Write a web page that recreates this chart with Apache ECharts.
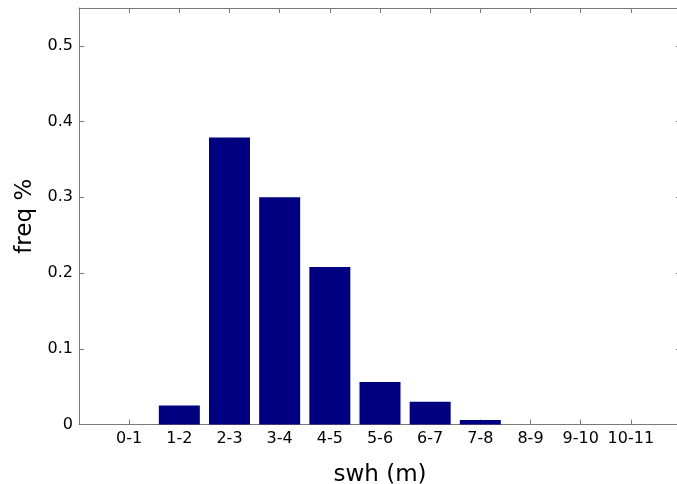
<!DOCTYPE html>
<html>
<head>
<meta charset="utf-8">
<script src="https://cdn.jsdelivr.net/npm/echarts@6/dist/echarts.min.js"></script>
<style>
  html, body { margin: 0; padding: 0; background: #fff; }
  #chart { width: 677px; height: 484px; }
</style>
</head>
<body>
<div id="chart"></div>
<script>
// Significant wave height bins and their frequency
const binLabels = ['0-1', '1-2', '2-3', '3-4', '4-5', '5-6', '6-7', '7-8', '8-9', '9-10', '10-11'];
const freqValues = [0, 0.025, 0.379, 0.300, 0.208, 0.056, 0.030, 0.006, 0, 0, 0];
const yTickValues = [0, 0.1, 0.2, 0.3, 0.4, 0.5];

// bins sit at positions 1..N on a numeric axis that spans 0..N+1
const binPositions = binLabels.map((_, i) => i + 1);
const barData = binPositions.map((p, i) => [p, freqValues[i]]);

const FONT = 'DejaVu Sans';
const AXIS_GREY = '#7a7a7a';

const lineStyle = { color: AXIS_GREY, width: 1 };
const tickStyle = { show: true, inside: true, length: 5, lineStyle: { color: AXIS_GREY, width: 1 } };

const chart = echarts.init(document.getElementById('chart'), null, { renderer: 'canvas' });

chart.setOption({
  animation: false,
  backgroundColor: '#ffffff',
  grid: { left: 79, right: -4, top: 8, bottom: 59.5, containLabel: false, outerBoundsMode: 'none' },
  xAxis: [
    {
      type: 'value',
      position: 'bottom',
      min: 0,
      max: binLabels.length + 1,
      interval: 1,
      name: 'swh (m)',
      nameLocation: 'middle',
      nameGap: 39,
      nameTextStyle: { fontFamily: FONT, fontSize: 23, color: '#000' },
      axisLine: { show: true, onZero: false, lineStyle: lineStyle },
      axisTick: Object.assign({ customValues: binPositions }, tickStyle),
      axisLabel: {
        customValues: binPositions,
        formatter: v => binLabels[Math.round(v) - 1] || '',
        fontFamily: FONT, fontSize: 16, color: '#000', margin: 6
      },
      splitLine: { show: false }
    },
    {
      type: 'value',
      position: 'top',
      min: 0,
      max: binLabels.length + 1,
      interval: 1,
      axisLine: { show: true, onZero: false, lineStyle: lineStyle },
      axisTick: Object.assign({ customValues: binPositions }, tickStyle),
      axisLabel: { show: false },
      splitLine: { show: false }
    }
  ],
  yAxis: [
    {
      type: 'value',
      position: 'left',
      min: 0,
      max: 0.55,
      name: 'freq %',
      nameLocation: 'middle',
      nameGap: 40,
      nameTextStyle: { fontFamily: FONT, fontSize: 23, color: '#000' },
      axisLine: { show: true, onZero: false, lineStyle: lineStyle },
      axisTick: Object.assign({ customValues: yTickValues }, tickStyle),
      axisLabel: {
        customValues: yTickValues,
        fontFamily: FONT, fontSize: 16, color: '#000', margin: 6
      },
      splitLine: { show: false }
    },
    {
      type: 'value',
      position: 'right',
      min: 0,
      max: 0.55,
      axisLine: { show: true, onZero: false, lineStyle: lineStyle },
      axisTick: Object.assign({ customValues: yTickValues }, tickStyle),
      axisLabel: { show: false },
      splitLine: { show: false }
    }
  ],
  series: [
    {
      type: 'bar',
      xAxisIndex: 0,
      yAxisIndex: 0,
      data: barData,
      barWidth: 41,
      itemStyle: { color: '#000080', borderWidth: 0 },
      emphasis: { disabled: true }
    }
  ]
});
</script>
</body>
</html>
